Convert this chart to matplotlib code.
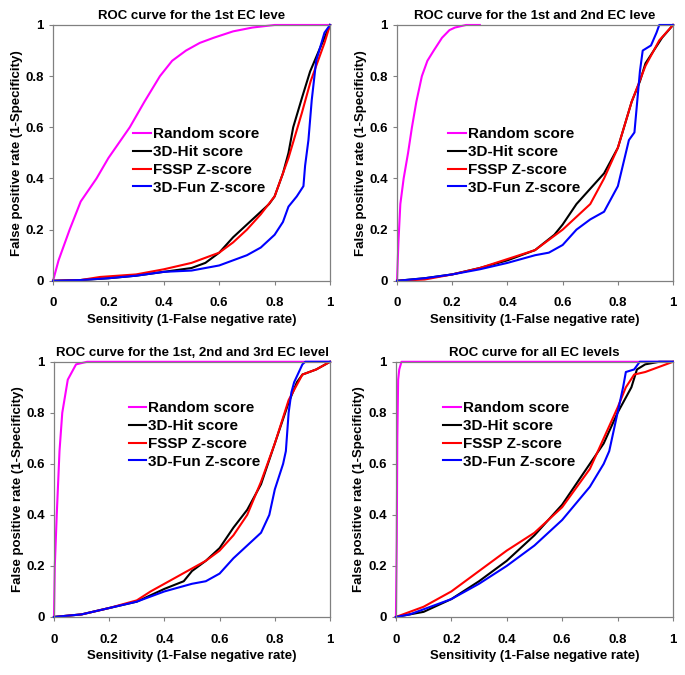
import matplotlib
matplotlib.use("Agg")
import matplotlib.pyplot as plt

plt.rcParams['font.family'] = ['Liberation Sans', 'DejaVu Sans']
plt.rcParams['font.weight'] = 'bold'

titles = ["ROC curve for the 1st EC leve",
          "ROC curve for the 1st and 2nd EC leve",
          "ROC curve for the 1st, 2nd and 3rd EC level",
          "ROC curve for all EC levels"]
series_names = ["Random score", "3D-Hit score", "FSSP Z-score", "3D-Fun Z-score"]
series_colors = ["#ff00ff", "#000000", "#ff0000", "#0000ff"]

# panel 1: 1st EC level
p1_random_x = [0, 0.02, 0.06, 0.1, 0.157, 0.2, 0.277, 0.33, 0.386, 0.43, 0.48, 0.53, 0.58, 0.65, 0.72, 0.8, 1.0]
p1_random_y = [0, 0.08, 0.2, 0.31, 0.4, 0.48, 0.6, 0.7, 0.8, 0.86, 0.9, 0.93, 0.95, 0.975, 0.99, 1.0, 1.0]
p1_hit_x = [0, 0.1, 0.2, 0.3, 0.4, 0.5, 0.55, 0.6, 0.65, 0.7, 0.75, 0.78, 0.8, 0.83, 0.85, 0.867, 0.9, 0.928, 0.96, 1.0]
p1_hit_y = [0, 0.003, 0.01, 0.02, 0.035, 0.05, 0.07, 0.11, 0.17, 0.22, 0.27, 0.3, 0.33, 0.42, 0.5, 0.6, 0.72, 0.818, 0.9, 1.0]
p1_fssp_x = [0, 0.1, 0.17, 0.3, 0.4, 0.5, 0.6, 0.65, 0.7, 0.75, 0.8, 0.85, 0.898, 0.93, 0.96, 0.98, 1.0]
p1_fssp_y = [0, 0.003, 0.015, 0.025, 0.045, 0.07, 0.11, 0.15, 0.2, 0.26, 0.33, 0.48, 0.655, 0.78, 0.87, 0.93, 1.0]
p1_fun_x = [0, 0.1, 0.2, 0.3, 0.4, 0.5, 0.6, 0.65, 0.7, 0.75, 0.8, 0.83, 0.85, 0.88, 0.904, 0.91, 0.922, 0.934, 0.95, 0.98, 1.0]
p1_fun_y = [0, 0.003, 0.01, 0.02, 0.035, 0.04, 0.06, 0.08, 0.1, 0.13, 0.18, 0.23, 0.29, 0.33, 0.37, 0.45, 0.55, 0.707, 0.86, 0.97, 1.0]

# panel 2: 1st and 2nd EC level
p2_random_x = [0, 0.005, 0.012, 0.024, 0.04, 0.054, 0.07, 0.09, 0.11, 0.133, 0.163, 0.19, 0.21, 0.25, 0.3]
p2_random_y = [0, 0.15, 0.3, 0.4, 0.5, 0.6, 0.7, 0.8, 0.86, 0.9, 0.95, 0.98, 0.99, 1.0, 1.0]
p2_hit_x = [0, 0.1, 0.2, 0.3, 0.4, 0.5, 0.57, 0.6, 0.65, 0.7, 0.75, 0.8, 0.85, 0.88, 0.9, 0.93, 0.96, 1.0]
p2_hit_y = [0, 0.01, 0.025, 0.05, 0.08, 0.12, 0.18, 0.22, 0.3, 0.36, 0.42, 0.52, 0.7, 0.78, 0.85, 0.9, 0.95, 1.0]
p2_fssp_x = [0, 0.1, 0.2, 0.3, 0.4, 0.5, 0.6, 0.65, 0.7, 0.75, 0.8, 0.85, 0.9, 0.95, 1.0]
p2_fssp_y = [0, 0.005, 0.025, 0.05, 0.085, 0.12, 0.2, 0.25, 0.3, 0.4, 0.52, 0.7, 0.84, 0.94, 1.0]
p2_fun_x = [0, 0.1, 0.2, 0.3, 0.4, 0.5, 0.55, 0.6, 0.65, 0.7, 0.75, 0.8, 0.84, 0.86, 0.87, 0.88, 0.89, 0.92, 0.94, 0.95, 1.0]
p2_fun_y = [0, 0.01, 0.025, 0.045, 0.07, 0.1, 0.11, 0.14, 0.2, 0.24, 0.27, 0.37, 0.55, 0.58, 0.7, 0.82, 0.9, 0.92, 0.97, 1.0, 1.0]

# panel 3: 1st, 2nd and 3rd EC level
p3_random_x = [0, 0.003, 0.01, 0.02, 0.03, 0.05, 0.08, 0.12, 1.0]
p3_random_y = [0, 0.2, 0.4, 0.65, 0.8, 0.93, 0.99, 1.0, 1.0]
p3_hit_x = [0, 0.1, 0.2, 0.3, 0.4, 0.47, 0.5, 0.55, 0.6, 0.65, 0.7, 0.75, 0.8, 0.85, 0.88, 0.9, 0.95, 1.0]
p3_hit_y = [0, 0.01, 0.035, 0.06, 0.11, 0.14, 0.18, 0.22, 0.27, 0.35, 0.42, 0.52, 0.68, 0.84, 0.92, 0.95, 0.97, 1.0]
p3_fssp_x = [0, 0.1, 0.2, 0.3, 0.35, 0.4, 0.45, 0.5, 0.55, 0.6, 0.65, 0.7, 0.75, 0.8, 0.85, 0.9, 0.95, 1.0]
p3_fssp_y = [0, 0.01, 0.035, 0.065, 0.1, 0.13, 0.16, 0.19, 0.22, 0.26, 0.32, 0.4, 0.53, 0.68, 0.85, 0.95, 0.97, 1.0]
p3_fun_x = [0, 0.1, 0.2, 0.3, 0.4, 0.5, 0.55, 0.6, 0.65, 0.7, 0.75, 0.78, 0.8, 0.83, 0.84, 0.85, 0.86, 0.87, 0.9, 0.91, 1.0]
p3_fun_y = [0, 0.01, 0.035, 0.06, 0.1, 0.13, 0.14, 0.17, 0.23, 0.28, 0.33, 0.4, 0.5, 0.6, 0.65, 0.8, 0.88, 0.92, 0.99, 1.0, 1.0]

# panel 4: all EC levels
p4_random_x = [0, 0.003, 0.005, 0.008, 0.012, 0.02, 1.0]
p4_random_y = [0, 0.3, 0.7, 0.93, 0.97, 1.0, 1.0]
p4_hit_x = [0, 0.05, 0.1, 0.2, 0.3, 0.4, 0.5, 0.6, 0.65, 0.7, 0.75, 0.8, 0.85, 0.87, 0.9, 0.95, 1.0]
p4_hit_y = [0, 0.01, 0.02, 0.07, 0.14, 0.22, 0.32, 0.44, 0.52, 0.6, 0.68, 0.8, 0.9, 0.97, 0.99, 1.0, 1.0]
p4_fssp_x = [0, 0.05, 0.1, 0.2, 0.3, 0.4, 0.5, 0.6, 0.7, 0.75, 0.8, 0.83, 0.86, 0.9, 1.0]
p4_fssp_y = [0, 0.02, 0.04, 0.1, 0.18, 0.26, 0.33, 0.43, 0.58, 0.7, 0.82, 0.9, 0.95, 0.96, 1.0]
p4_fun_x = [0, 0.05, 0.1, 0.2, 0.3, 0.4, 0.5, 0.6, 0.7, 0.75, 0.77, 0.8, 0.82, 0.83, 0.86, 0.88, 1.0]
p4_fun_y = [0, 0.01, 0.03, 0.07, 0.13, 0.2, 0.28, 0.38, 0.51, 0.6, 0.65, 0.8, 0.9, 0.96, 0.97, 1.0, 1.0]

panels = [
    [(p1_random_x, p1_random_y), (p1_hit_x, p1_hit_y), (p1_fssp_x, p1_fssp_y), (p1_fun_x, p1_fun_y)],
    [(p2_random_x, p2_random_y), (p2_hit_x, p2_hit_y), (p2_fssp_x, p2_fssp_y), (p2_fun_x, p2_fun_y)],
    [(p3_random_x, p3_random_y), (p3_hit_x, p3_hit_y), (p3_fssp_x, p3_fssp_y), (p3_fun_x, p3_fun_y)],
    [(p4_random_x, p4_random_y), (p4_hit_x, p4_hit_y), (p4_fssp_x, p4_fssp_y), (p4_fun_x, p4_fun_y)],
]

# axes rectangles in figure fraction (left, bottom, width, height)
rects = [(0.0774, 0.584, 0.4044, 0.379),
         (0.5796, 0.584, 0.403, 0.379),
         (0.0788, 0.086, 0.403, 0.378),
         (0.578, 0.086, 0.4044, 0.378)]
legend_anchor = [(0.29, 0.60), (0.185, 0.60), (0.27, 0.845), (0.17, 0.845)]

fig = plt.figure(figsize=(6.85, 6.75), dpi=100)
for i in range(4):
    ax = fig.add_axes(rects[i])
    for (xs, ys), name, col in zip(panels[i], series_names, series_colors):
        ax.plot(xs, ys, color=col, lw=1.5, label=name, clip_on=False)
    ax.set_xlim(0, 1)
    ax.set_ylim(0, 1)
    ax.set_xticks([0, 0.2, 0.4, 0.6, 0.8, 1])
    ax.set_yticks([0, 0.2, 0.4, 0.6, 0.8, 1])
    ax.set_xticklabels(["0", "0.2", "0.4", "0.6", "0.8", "1"])
    ax.set_yticklabels(["0", "0.2", "0.4", "0.6", "0.8", "1"])
    ax.tick_params(labelsize=9.5, length=3, color="#808080", width=0.8)
    ax.tick_params(axis='x', pad=9)
    for s in ax.spines.values():
        s.set_color("#808080")
        s.set_linewidth(0.9)
    ax.set_title(titles[i], fontsize=9.5, fontweight='bold', pad=4)
    ax.set_xlabel("Sensitivity (1-False negative rate)", fontsize=9.5, fontweight='bold', labelpad=3)
    ax.set_ylabel("False positive rate (1-Specificity)", fontsize=9.5, fontweight='bold', labelpad=2)
    ax.legend(loc="upper left", bbox_to_anchor=legend_anchor[i], frameon=False,
              prop={'size': 11, 'weight': 'bold'}, handlelength=1.15, handletextpad=0.15,
              labelspacing=0.25, borderaxespad=0, borderpad=0)

fig.savefig("out.png", dpi=100)
